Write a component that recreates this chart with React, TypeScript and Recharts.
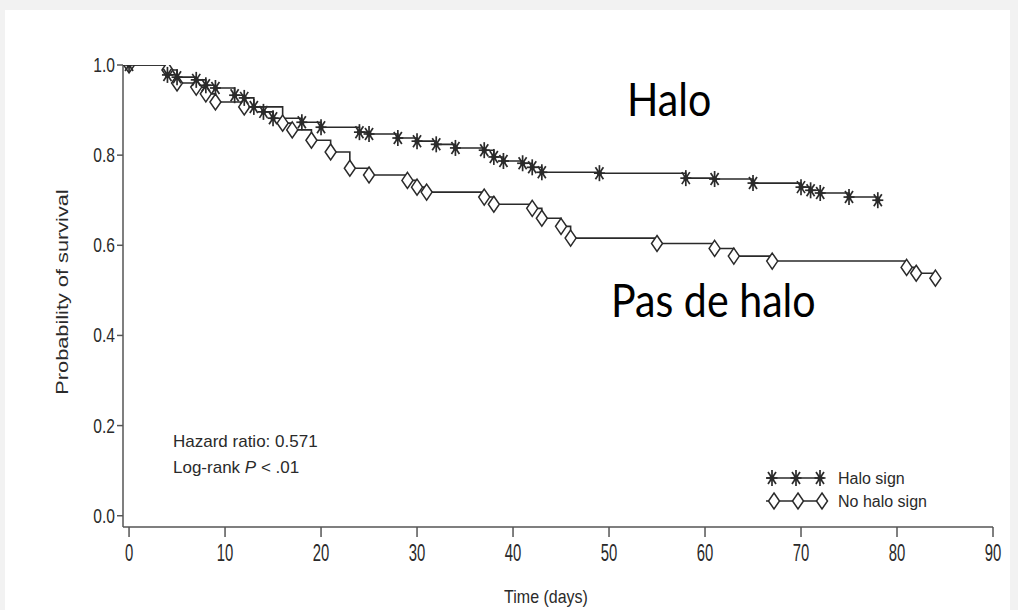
import { LineChart, Line, XAxis, YAxis, Legend } from "recharts"

// Kaplan-Meier steps (time in days, survival probability)
const haloTimes = [0, 4, 5, 7, 8, 9, 11, 12, 13, 14, 15, 18, 20, 24, 25, 28, 30, 32, 34, 37, 38, 39, 41, 42, 43, 49, 58, 61, 65, 70, 71, 72, 75, 78]
const haloSurv = [1.0, 0.978, 0.973, 0.967, 0.955, 0.949, 0.933, 0.927, 0.907, 0.896, 0.882, 0.873, 0.862, 0.851, 0.847, 0.838, 0.831, 0.824, 0.816, 0.811, 0.796, 0.787, 0.782, 0.773, 0.762, 0.76, 0.749, 0.747, 0.738, 0.729, 0.722, 0.716, 0.707, 0.7]

const noHaloTimes = [0, 4, 5, 7, 8, 9, 12, 16, 17, 19, 21, 23, 25, 29, 30, 31, 37, 38, 42, 43, 45, 46, 55, 61, 63, 67, 81, 82, 84]
const noHaloSurv = [1.0, 0.989, 0.96, 0.951, 0.936, 0.918, 0.907, 0.871, 0.856, 0.833, 0.807, 0.771, 0.756, 0.744, 0.729, 0.718, 0.707, 0.691, 0.682, 0.66, 0.642, 0.616, 0.604, 0.593, 0.576, 0.565, 0.551, 0.538, 0.527]

const xTicks = [0, 10, 20, 30, 40, 50, 60, 70, 80, 90]
const yTicks = [0, 0.2, 0.4, 0.6, 0.8, 1.0]

const haloData = haloTimes.map((t, i) => ({ t, s: haloSurv[i] }))
const noHaloData = noHaloTimes.map((t, i) => ({ t, s: noHaloSurv[i] }))

const INK = "#2a2a2a"
const AXIS = "#555"
const SANS = "'Liberation Sans', Arial, sans-serif"

function Star({ cx, cy }: { cx: number; cy: number }) {
  return (
    <g transform={`translate(${cx},${cy})`} stroke={INK} strokeWidth={1.7}>
      <line x1={0} y1={-8} x2={0} y2={8} />
      <line x1={-5.5} y1={0} x2={5.5} y2={0} />
      <line x1={-4} y1={-6} x2={4} y2={6} />
      <line x1={-4} y1={6} x2={4} y2={-6} />
      <circle r={2.6} fill={INK} stroke="none" />
    </g>
  )
}

function Diamond({ cx, cy }: { cx: number; cy: number }) {
  return (
    <polygon
      points={`${cx},${cy - 8} ${cx + 5.5},${cy} ${cx},${cy + 8} ${cx - 5.5},${cy}`}
      fill="#fff"
      stroke={INK}
      strokeWidth={1.5}
    />
  )
}

const XTick = ({ x, y, payload }: any) => (
  <g transform={`translate(${x},${y})`}>
    <text transform="scale(0.62,1)" textAnchor="middle" y={22} fontSize={24} fontFamily={SANS} fill={INK}>
      {payload.value}
    </text>
  </g>
)

const YTick = ({ x, y, payload }: any) => (
  <g transform={`translate(${x},${y})`}>
    <text transform="scale(0.78,1)" textAnchor="end" y={7} fontSize={20} fontFamily={SANS} fill={INK}>
      {payload.value.toFixed(1)}
    </text>
  </g>
)

const YLabel = ({ viewBox }: any) => {
  const cy = viewBox.y + viewBox.height / 2 - 4
  return (
    <text
      transform={`translate(68,${cy}) rotate(-90) scale(1.36,1)`}
      textAnchor="middle"
      fontSize={16}
      fontFamily={SANS}
      fill={INK}
    >
      Probability of survival
    </text>
  )
}

const XLabel = ({ viewBox }: any) => (
  <text
    transform={`translate(${viewBox.x + viewBox.width / 2 - 12},603) scale(1,1.2)`}
    textAnchor="middle"
    fontSize={16}
    fontFamily={SANS}
    fill={INK}
  >
    Time (days)
  </text>
)

const LegendBox = () => (
  <svg width={200} height={50}>
    <line x1={8} y1={12} x2={66} y2={12} stroke={INK} strokeWidth={1.5} />
    {[14, 38, 62].map((cx) => (
      <Star key={cx} cx={cx} cy={12} />
    ))}
    <line x1={8} y1={35} x2={66} y2={35} stroke={INK} strokeWidth={1.5} />
    {[16, 40, 64].map((cx) => (
      <Diamond key={cx} cx={cx} cy={35} />
    ))}
    <text x={80} y={18} fontSize={16} fontFamily={SANS} fill={INK}>Halo sign</text>
    <text x={80} y={41} fontSize={16} fontFamily={SANS} fill={INK}>No halo sign</text>
  </svg>
)

const bigText = {
  position: "absolute" as const,
  fontFamily: "Lato, sans-serif",
  fontSize: 42,
  color: "#000",
  lineHeight: 1,
  transform: "scale(0.98,1.1)",
  transformOrigin: "left top",
}

export default function App() {
  return (
    <div style={{ position: "absolute", left: 0, top: 0, width: 1018, height: 610, background: "#f2f2f2", overflow: "hidden" }}>
      <div style={{ position: "absolute", left: 5, top: 10, width: 1005, height: 600, background: "#fff" }} />
      <div style={{ position: "absolute", left: 0, top: 0 }}>
        <LineChart width={1018} height={610} margin={{ top: 65, right: 25, bottom: 53, left: 63 }}>
          <XAxis
            type="number"
            dataKey="t"
            domain={[-0.63, 90]}
            allowDataOverflow
            ticks={xTicks}
            height={30}
            tickSize={10}
            axisLine={{ stroke: AXIS, strokeWidth: 1.5 }}
            tickLine={{ stroke: AXIS, strokeWidth: 1.5 }}
            tick={<XTick />}
            label={<XLabel />}
          />
          <YAxis
            type="number"
            dataKey="s"
            domain={[-0.025, 1]}
            allowDataOverflow
            ticks={yTicks}
            width={60}
            tickSize={6}
            axisLine={{ stroke: AXIS, strokeWidth: 1.5 }}
            tickLine={{ stroke: AXIS, strokeWidth: 1.5 }}
            tick={<YTick />}
            label={<YLabel />}
          />
          <Legend
            layout="horizontal"
            align="center"
            verticalAlign="middle"
            content={<LegendBox />}
            wrapperStyle={{ left: 758, top: 466, width: 200, height: 50 }}
          />
          <Line
            data={noHaloData}
            dataKey="s"
            name="No halo sign"
            type="stepAfter"
            stroke={INK}
            strokeWidth={1.6}
            isAnimationActive={false}
            activeDot={false}
            dot={(p: any) => <Diamond key={`d-${p.index}`} cx={p.cx} cy={p.cy} />}
          />
          <Line
            data={haloData}
            dataKey="s"
            name="Halo sign"
            type="stepAfter"
            stroke={INK}
            strokeWidth={1.6}
            isAnimationActive={false}
            activeDot={false}
            dot={(p: any) => <Star key={`s-${p.index}`} cx={p.cx} cy={p.cy} />}
          />
        </LineChart>
      </div>
      <div style={{ position: "absolute", left: 173, top: 429, fontFamily: SANS, fontSize: 17, color: INK, lineHeight: "26px" }}>
        <div>Hazard ratio: 0.571</div>
        <div>
          Log-rank <i>P</i> &lt; .01
        </div>
      </div>
      <div style={{ ...bigText, left: 627, top: 75 }}>Halo</div>
      <div style={{ ...bigText, left: 611, top: 276 }}>Pas de halo</div>
    </div>
  )
}
